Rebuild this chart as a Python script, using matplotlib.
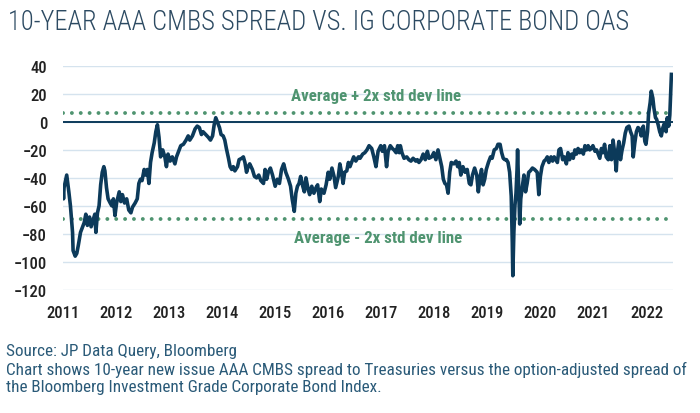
import matplotlib
matplotlib.use("Agg")
import matplotlib.pyplot as plt
from matplotlib import font_manager

# font: condensed if available
names = {f.name for f in font_manager.fontManager.ttflist}
fam = "Roboto"
for cand in ["Roboto Condensed", "Liberation Sans Narrow", "Roboto"]:
    if cand in names:
        fam = cand
        break
plt.rcParams["font.family"] = [fam, "DejaVu Sans"]

# spread difference (bp), weekly-ish
years = [
    2011.00, 2011.01, 2011.02, 2011.07, 2011.11, 2011.14, 2011.18, 2011.19, 2011.23, 2011.26,
    2011.29, 2011.33, 2011.36, 2011.40, 2011.43, 2011.46, 2011.50, 2011.53, 2011.57, 2011.60,
    2011.62, 2011.65, 2011.68, 2011.71, 2011.74, 2011.77, 2011.79, 2011.82, 2011.85, 2011.89,
    2011.92, 2011.95, 2011.98, 2012.01, 2012.06, 2012.09, 2012.12, 2012.16, 2012.20, 2012.24,
    2012.28, 2012.31, 2012.36, 2012.40, 2012.43, 2012.46, 2012.49, 2012.53, 2012.56, 2012.59,
    2012.62, 2012.65, 2012.68, 2012.72, 2012.75, 2012.78, 2012.81, 2012.84, 2012.88, 2012.92,
    2012.95, 2012.98, 2013.02, 2013.06, 2013.11, 2013.14, 2013.17, 2013.22, 2013.27, 2013.32,
    2013.36, 2013.39, 2013.44, 2013.49, 2013.53, 2013.57, 2013.61, 2013.64, 2013.69, 2013.74,
    2013.78, 2013.82, 2013.85, 2013.88, 2013.91, 2013.95, 2013.98, 2014.02, 2014.05, 2014.08,
    2014.12, 2014.15, 2014.18, 2014.21, 2014.24, 2014.29, 2014.32, 2014.37, 2014.40, 2014.43,
    2014.46, 2014.49, 2014.52, 2014.57, 2014.61, 2014.65, 2014.69, 2014.73, 2014.78, 2014.81,
    2014.84, 2014.87, 2014.91, 2014.95, 2015.00, 2015.04, 2015.08, 2015.12, 2015.16, 2015.20,
    2015.25, 2015.29, 2015.32, 2015.36, 2015.39, 2015.42, 2015.45, 2015.48, 2015.52, 2015.55,
    2015.58, 2015.62, 2015.65, 2015.69, 2015.73, 2015.77, 2015.80, 2015.84, 2015.87, 2015.92,
    2015.96, 2016.00, 2016.03, 2016.07, 2016.11, 2016.14, 2016.19, 2016.22, 2016.25, 2016.28,
    2016.31, 2016.35, 2016.38, 2016.41, 2016.45, 2016.48, 2016.52, 2016.57, 2016.60, 2016.65,
    2016.69, 2016.73, 2016.77, 2016.82, 2016.86, 2016.90, 2016.94, 2016.99, 2017.02, 2017.06,
    2017.10, 2017.13, 2017.17, 2017.21, 2017.24, 2017.28, 2017.31, 2017.34, 2017.36, 2017.39,
    2017.43, 2017.48, 2017.52, 2017.56, 2017.60, 2017.65, 2017.68, 2017.71, 2017.75, 2017.79,
    2017.83, 2017.87, 2017.90, 2017.95, 2017.99, 2018.03, 2018.07, 2018.10, 2018.14, 2018.17,
    2018.20, 2018.23, 2018.26, 2018.29, 2018.32, 2018.37, 2018.41, 2018.44, 2018.47, 2018.50,
    2018.54, 2018.58, 2018.62, 2018.66, 2018.69, 2018.72, 2018.76, 2018.80, 2018.83, 2018.86,
    2018.89, 2018.92, 2018.95, 2018.98, 2019.02, 2019.06, 2019.09, 2019.13, 2019.17, 2019.20,
    2019.24, 2019.27, 2019.30, 2019.33, 2019.36, 2019.39, 2019.42, 2019.45, 2019.47, 2019.48,
    2019.50, 2019.52, 2019.54, 2019.56, 2019.57, 2019.59, 2019.61, 2019.63, 2019.66, 2019.69,
    2019.72, 2019.75, 2019.78, 2019.81, 2019.85, 2019.89, 2019.94, 2019.97, 2020.00, 2020.03,
    2020.07, 2020.10, 2020.13, 2020.16, 2020.20, 2020.23, 2020.26, 2020.29, 2020.32, 2020.35,
    2020.38, 2020.42, 2020.45, 2020.49, 2020.52, 2020.55, 2020.59, 2020.62, 2020.65, 2020.68,
    2020.71, 2020.74, 2020.77, 2020.81, 2020.84, 2020.87, 2020.90, 2020.93, 2020.96, 2020.99,
    2021.03, 2021.06, 2021.09, 2021.12, 2021.15, 2021.18, 2021.21, 2021.24, 2021.28, 2021.31,
    2021.34, 2021.37, 2021.40, 2021.43, 2021.45, 2021.48, 2021.51, 2021.54, 2021.57, 2021.60,
    2021.63, 2021.67, 2021.70, 2021.73, 2021.75, 2021.78, 2021.81, 2021.84, 2021.87, 2021.90,
    2021.94, 2021.97, 2021.99, 2022.02, 2022.04, 2022.07, 2022.09, 2022.12, 2022.14, 2022.17,
    2022.19, 2022.22, 2022.25, 2022.28, 2022.31, 2022.34, 2022.37, 2022.39, 2022.42, 2022.44,
    2022.47,
]
spread = [
    -48, -55, -47, -38, -50, -60, -79, -92, -96, -94,
    -88, -79, -76, -72, -66, -74, -68, -75, -70, -66,
    -79, -65, -60, -45, -36, -32, -35, -47, -55, -58,
    -60, -55, -67, -58, -50, -57, -52, -58, -55, -63,
    -65, -61, -58, -55, -44, -41, -42, -34, -38, -34,
    -44, -29, -22, -15, -7, -2, -11, -25, -20, -25,
    -32, -23, -28, -25, -30, -25, -22, -17, -16, -13,
    -10, -13, -10, -5, -3, -4, -9, -7, -9, -11,
    -13, -10, -2, 3, 0, -4, -9, -10, -13, -19,
    -26, -32, -34, -32, -35, -32, -27, -26, -25, -29,
    -36, -32, -30, -34, -39, -40, -38, -42, -44, -34,
    -41, -36, -33, -38, -46, -41, -44, -34, -30, -36,
    -41, -46, -55, -64, -51, -46, -44, -39, -46, -50,
    -40, -48, -52, -46, -51, -47, -45, -57, -48, -51,
    -45, -36, -41, -33, -39, -47, -39, -30, -36, -44,
    -36, -35, -29, -32, -28, -25, -28, -25, -26, -23,
    -22, -20, -17, -19, -25, -32, -21, -17, -21, -17,
    -32, -21, -17, -19, -20, -22, -17, -22, -17, -22,
    -26, -25, -27, -28, -26, -28, -27, -29, -27, -23,
    -27, -21, -26, -25, -22, -27, -20, -25, -32, -41,
    -44, -45, -51, -36, -29, -30, -28, -32, -29, -38,
    -32, -36, -34, -44, -45, -38, -33, -38, -50, -40,
    -34, -45, -41, -34, -29, -25, -26, -20, -19, -16,
    -16, -22, -26, -27, -27, -29, -36, -53, -86, -110,
    -79, -60, -51, -34, -20, -46, -73, -55, -46, -38,
    -50, -44, -36, -35, -33, -34, -36, -52, -39, -32,
    -28, -27, -25, -29, -25, -28, -25, -27, -29, -20,
    -19, -27, -25, -30, -22, -27, -23, -26, -20, -23,
    -19, -22, -20, -23, -17, -20, -17, -20, -19, -17,
    -21, -20, -23, -26, -19, -22, -16, -25, -27, -17,
    -27, -13, -22, -35, -22, -14, -27, -20, -15, -8,
    -4, -3, -7, -10, -25, -15, -7, -4, -5, -10,
    -3, -14, -16, -7, 6, 14, 22, 17, 10, 3,
    2, -2, -7, -10, -4, -1, -7, 3, -3, 5,
    34,
]

upper_band = 6.5
lower_band = -69.5
year_ticks = list(range(2011, 2023))
y_ticks = list(range(-120, 41, 20))

navy = "#0c3a5a"
green = "#4f9470"
grid_c = "#d5e3ee"

fig = plt.figure(figsize=(7, 4.14), dpi=100)
ax = fig.add_axes([63 / 700, 1 - 290.7 / 414, 610 / 700, 223.7 / 414])

ax.set_xlim(2011, 2022.5)
ax.set_ylim(-120, 40)
ax.set_yticks(y_ticks)
ax.set_xticks(year_ticks)
ax.set_xticklabels([str(y) for y in year_ticks])
ax.yaxis.grid(True, color=grid_c, lw=1)
ax.set_axisbelow(True)
for s in ax.spines.values():
    s.set_visible(False)
ax.tick_params(length=0, labelsize=12, labelcolor="#222222")
ax.tick_params(axis="x", pad=11)
ax.tick_params(axis="y", pad=11.5)
for lab in ax.get_xticklabels() + ax.get_yticklabels():
    lab.set_fontweight("medium")

ax.axhline(0, color=navy, lw=1.4, zorder=2)
ax.axhline(upper_band, color=green, lw=2.8, ls=(0, (0.01, 2.27)),
           dash_capstyle="round", zorder=2)
ax.axhline(lower_band, color=green, lw=2.8, ls=(0, (0.01, 2.27)),
           dash_capstyle="round", zorder=2)
ax.plot(years, spread, color=navy, lw=2.6, zorder=3, solid_joinstyle="round")

ax.text(2016.9, 19, "Average + 2x std dev line", color=green, fontsize=12.2,
        fontweight="bold", ha="center", va="center")
ax.text(2016.95, -83, "Average - 2x std dev line", color=green, fontsize=12.2,
        fontweight="bold", ha="center", va="center")

fig.text(8 / 700, 1 - 22 / 414, "10-YEAR AAA CMBS SPREAD VS. IG CORPORATE BOND OAS",
         fontsize=19.1, color="#2c4a62", fontweight="light", ha="left", va="center")

foot = "#2a5a78"
fig.text(6 / 700, 1 - 352 / 414, "Source: JP Data Query, Bloomberg",
         fontsize=12.3, color=foot, va="center")
fig.text(6 / 700, 1 - 370 / 414,
         "Chart shows 10-year new issue AAA CMBS spread to Treasuries versus the option-adjusted spread of",
         fontsize=12.3, color=foot, va="center")
fig.text(6 / 700, 1 - 388 / 414,
         "the Bloomberg Investment Grade Corporate Bond Index.",
         fontsize=12.3, color=foot, va="center")

fig.savefig("out.png", dpi=100)
